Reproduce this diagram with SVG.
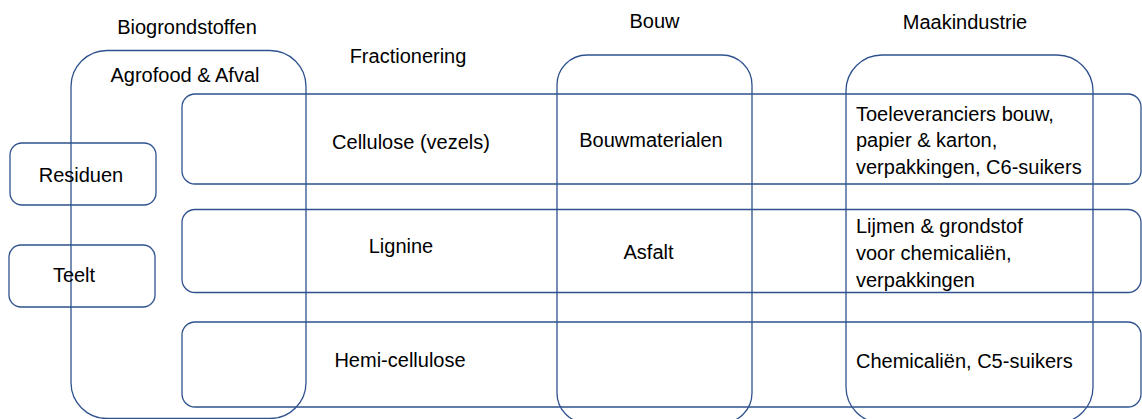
<svg xmlns="http://www.w3.org/2000/svg" width="1142" height="419" viewBox="0 0 1142 419">
  <style>
    .box { fill: none; stroke: #2F528F; stroke-width: 1.3; }
    text { font-family: "Liberation Sans", Arial, sans-serif; font-size: 20px; fill: #000000; }
    .c { text-anchor: middle; }
  </style>
  <rect x="0" y="0" width="1142" height="419" fill="#ffffff"/>

  <g id="headers">
    <text class="c" x="187" y="34">Biogrondstoffen</text>
    <text class="c" x="408" y="63">Fractionering</text>
    <text class="c" x="654.5" y="28">Bouw</text>
    <text class="c" x="965" y="29">Maakindustrie</text>
  </g>

  <g id="agrofood">
    <rect class="box" x="71" y="50.5" width="235" height="368" rx="36" ry="36"/>
    <text class="c" x="185" y="82">Agrofood &amp; Afval</text>
  </g>

  <g id="bouw">
    <rect class="box" x="557" y="55" width="195" height="368" rx="30" ry="30"/>
  </g>

  <g id="maakindustrie">
    <rect class="box" x="846" y="55" width="247" height="368" rx="36" ry="36"/>
  </g>

  <g id="row-cellulose">
    <rect class="box" x="182" y="94" width="959" height="90" rx="13" ry="13"/>
    <text class="c" x="411" y="149">Cellulose (vezels)</text>
    <text class="c" x="651" y="147">Bouwmaterialen</text>
    <text x="856" y="121">Toeleveranciers bouw,</text>
    <text x="856" y="147">papier &amp; karton,</text>
    <text x="856" y="174">verpakkingen, C6-suikers</text>
  </g>

  <g id="row-lignine">
    <rect class="box" x="182" y="209.5" width="959" height="83" rx="13" ry="13"/>
    <text class="c" x="401" y="253">Lignine</text>
    <text class="c" x="648.5" y="259">Asfalt</text>
    <text x="856" y="233">Lijmen &amp; grondstof</text>
    <text x="856" y="260">voor chemicaliën,</text>
    <text x="856" y="287">verpakkingen</text>
  </g>

  <g id="row-hemicellulose">
    <rect class="box" x="182" y="322" width="959" height="85" rx="13" ry="13"/>
    <text class="c" x="400" y="367">Hemi-cellulose</text>
    <text x="856" y="368">Chemicaliën, C5-suikers</text>
  </g>

  <g id="residuen">
    <rect class="box" x="10" y="143" width="146" height="62" rx="12" ry="12"/>
    <text class="c" x="81" y="182">Residuen</text>
  </g>

  <g id="teelt">
    <rect class="box" x="9" y="245" width="146" height="62" rx="12" ry="12"/>
    <text class="c" x="74" y="282">Teelt</text>
  </g>

  <g id="connectors"></g>
</svg>
